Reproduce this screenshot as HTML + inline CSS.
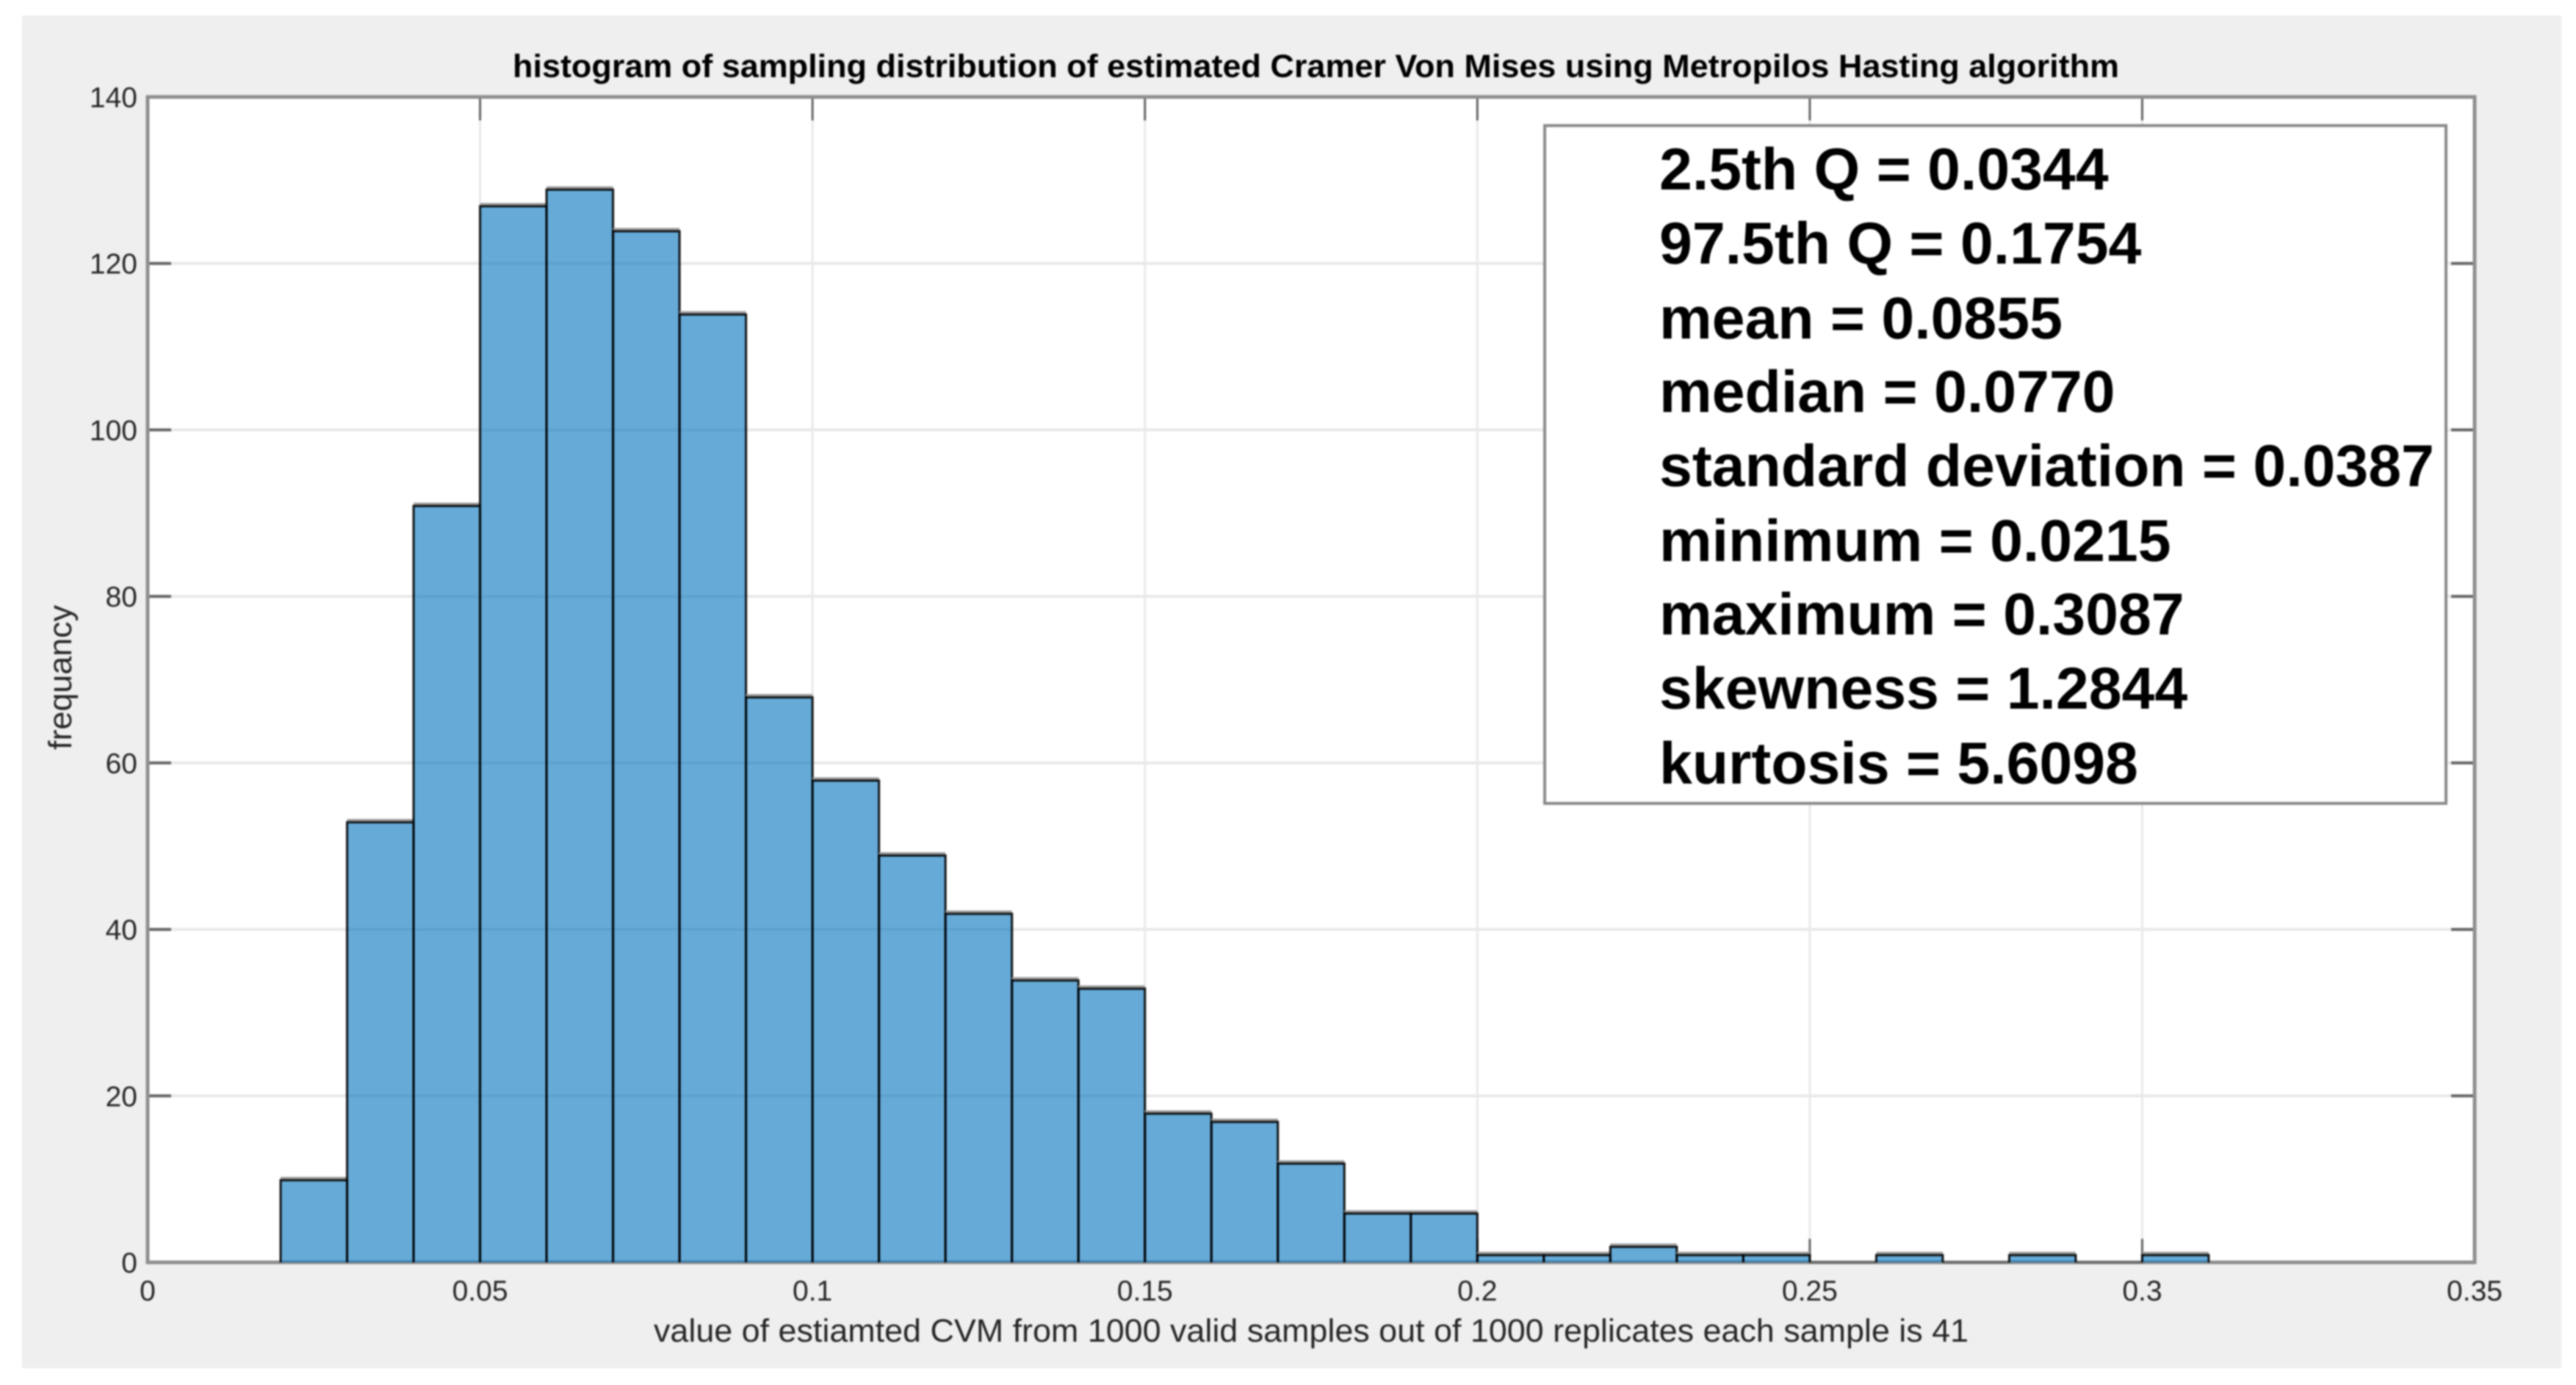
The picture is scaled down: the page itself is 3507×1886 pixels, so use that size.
<!DOCTYPE html>
<html lang="en">
<head>
<meta charset="utf-8">
<title>Histogram of sampling distribution</title>
<style>
  html, body { margin: 0; padding: 0; background: #ffffff; width: 3507px; height: 1886px; overflow: hidden; }
  svg { display: block; filter: blur(1.1px); }
  text { font-family: "Liberation Sans", Arial, sans-serif; text-rendering: geometricPrecision; }
</style>
</head>
<body>
<svg id="chart" xmlns="http://www.w3.org/2000/svg" width="3507" height="1886" viewBox="0 0 3507 1886">
  <rect x="30" y="21" width="3457" height="1842" fill="#efefef"/>
  <rect x="201" y="132" width="3168" height="1587" fill="#ffffff"/>
  <g id="grid"></g>
  <g id="axes"></g>
  <g id="bars"></g>
  <g id="tick-labels"></g>
  <text x="698" y="105" font-size="44" font-weight="700" fill="#000000" textLength="2187" lengthAdjust="spacingAndGlyphs">histogram of sampling distribution of estimated Cramer Von Mises using Metropilos Hasting algorithm</text>
  <text x="890" y="1827" font-size="44" fill="#262626" textLength="1790" lengthAdjust="spacingAndGlyphs">value of estiamted CVM from 1000 valid samples out of 1000 replicates each sample is 41</text>
  <text transform="translate(97 1021) rotate(-90)" font-size="44" fill="#262626" textLength="197" lengthAdjust="spacingAndGlyphs">frequancy</text>
  <g>
    <rect x="2103" y="171" width="1227" height="923" fill="#ffffff" stroke="#8a8a8a" stroke-width="4"/>
    <g font-size="80.6" font-weight="700" fill="#000000">
      <text x="2259" y="258">2.5th Q = 0.0344</text>
      <text x="2259" y="359">97.5th Q = 0.1754</text>
      <text x="2259" y="461">mean = 0.0855</text>
      <text x="2259" y="561">median = 0.0770</text>
      <text x="2259" y="662">standard deviation = 0.0387</text>
      <text x="2259" y="764">minimum = 0.0215</text>
      <text x="2259" y="864">maximum = 0.3087</text>
      <text x="2259" y="965">skewness = 1.2844</text>
      <text x="2259" y="1067">kurtosis = 5.6098</text>
    </g>
  </g>
</svg>
<script>
const binStart = 0.02;
const binWidth = 0.01;
const binCounts = [10, 53, 91, 127, 129, 124, 114, 68, 58, 49, 42, 34, 33, 18, 17, 12, 6, 6, 1, 1, 2, 1, 1, 0, 1, 0, 1, 0, 1];
const xTicks = [0, 0.05, 0.1, 0.15, 0.2, 0.25, 0.3, 0.35];
const xTickLabels = ["0", "0.05", "0.1", "0.15", "0.2", "0.25", "0.3", "0.35"];
const yTicks = [0, 20, 40, 60, 80, 100, 120, 140];
const yTickLabels = ["0", "20", "40", "60", "80", "100", "120", "140"];
const xDomain = [0, 0.35];
const yDomain = [0, 140];

const NS = "http://www.w3.org/2000/svg";
const plot = { left: 201, right: 3369, top: 132, bottom: 1719 };
const barTopNudge = 1.5;

function xScale(v) {
  return plot.left + (v - xDomain[0]) / (xDomain[1] - xDomain[0]) * (plot.right - plot.left);
}
function yScale(v) {
  return plot.bottom - (v - yDomain[0]) / (yDomain[1] - yDomain[0]) * (plot.bottom - plot.top);
}
function make(tag, props, parent) {
  const el = document.createElementNS(NS, tag);
  for (const k in props) el.setAttribute(k, props[k]);
  parent.appendChild(el);
  return el;
}

const gridG = document.getElementById("grid");
const axesG = document.getElementById("axes");
const barsG = document.getElementById("bars");
const labelsG = document.getElementById("tick-labels");

xTicks.forEach(function (t, i) {
  const x = xScale(t);
  const line = make("line", { x1: x, x2: x, y1: plot.top, y2: plot.bottom, stroke: "#e9e9e9", "stroke-width": 3 }, gridG);
  
  
  const tickB = make("line", { x1: x, x2: x, y1: plot.bottom, y2: plot.bottom - 32, stroke: "#666666", "stroke-width": 3 }, axesG);
  
  
  const tickT = make("line", { x1: x, x2: x, y1: plot.top, y2: plot.top + 32, stroke: "#666666", "stroke-width": 3 }, axesG);
  
  
  const label = make("text", { x: x, y: 1771, "font-size": 39, fill: "#262626", "text-anchor": "middle" }, labelsG);
  
  
  label.textContent = xTickLabels[i];
});

yTicks.forEach(function (t, i) {
  const y = yScale(t);
  const line = make("line", { x1: plot.left, x2: plot.right, y1: y, y2: y, stroke: "#e9e9e9", "stroke-width": 4 }, gridG);
  
  
  const tickL = make("line", { x1: plot.left, x2: plot.left + 32, y1: y, y2: y, stroke: "#666666", "stroke-width": 4 }, axesG);
  
  
  const tickR = make("line", { x1: plot.right, x2: plot.right - 32, y1: y, y2: y, stroke: "#666666", "stroke-width": 4 }, axesG);
  
  
  const label = make("text", { x: 187, y: y + 14, "font-size": 39, fill: "#262626", "text-anchor": "end" }, labelsG);
  
  
  label.textContent = yTickLabels[i];
});

const frame = make("path", {
  d: "M" + plot.left + " " + plot.top + "H" + plot.right + "V" + plot.bottom + "H" + plot.left + "Z",
  fill: "none", stroke: "#8f8f8f", "stroke-width": 5
}, axesG);



binCounts.forEach(function (count, i) {
  const x0 = xScale(binStart + i * binWidth);
  const x1 = xScale(binStart + (i + 1) * binWidth);
  const yTop = yScale(count) + barTopNudge;
  const yBase = yScale(0);
  if (count > 0) {
    const fill = make("rect", { x: x0, y: yTop, width: x1 - x0, height: yBase - yTop, fill: "#0072bd", "fill-opacity": 0.6 }, barsG);
    
    
    const halo = make("line", { x1: x0, x2: x1, y1: yTop - 3, y2: yTop - 3, stroke: "#9a9a9a", "stroke-width": 3 }, barsG);
    
    
    const edge = make("path", {
      d: "M" + x0 + " " + yBase + "V" + yTop + "H" + x1 + "V" + yBase,
      fill: "none", stroke: "#000000", "stroke-width": 3, "stroke-opacity": 0.9
    }, barsG);
    
    
  } else {
    const flat = make("line", { x1: x0, x2: x1, y1: yBase, y2: yBase, stroke: "#000000", "stroke-width": 3, "stroke-opacity": 0.25 }, barsG);
    
    
  }
});
</script>
</body>
</html>
